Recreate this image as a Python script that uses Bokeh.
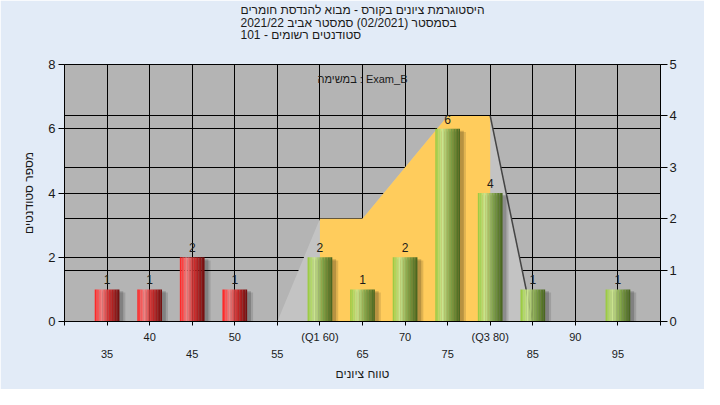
from bokeh.plotting import figure
from bokeh.models import Range1d, LinearAxis, FixedTicker, Label, ColumnDataSource, Grid, Title
from bokeh.embed import file_html
from bokeh.resources import INLINE
from bokeh.core.properties import value

# ---------------- data ----------------
grades = [35, 40, 45, 50, 55, 60, 65, 70, 75, 80, 85, 90, 95]
counts = [1, 1, 2, 1, 0, 2, 1, 2, 6, 4, 1, 0, 1]
pass_mark = 55

box_x = [55, 60, 65, 75, 80, 85]   # quartile shape (right axis)
box_y = [0, 2, 2, 4, 4, 0]
q1, q3 = 60, 80

xticks_top = [40, 50, 60, 70, 80, 90]
xlabels_top = ["40", "50", "(Q1 60)", "70", "(Q3 80)", "90"]
xticks_bottom = [35, 45, 55, 65, 75, 85, 95]
xlabels_bottom = ["35", "45", "55", "65", "75", "85", "95"]
left_ticks = [0, 2, 4, 6, 8]
right_ticks = [0, 1, 2, 3, 4, 5]

title_lines = [
    "היסטוגרמת ציונים בקורס - מבוא להנדסת חומרים",
    "בסמסטר  (02/2021)  סמסטר אביב 2021/22",
    "סטודנטים רשומים - 101",
]
task_text = "במשימה : Exam_B"
x_title = "טווח ציונים"
y_title = "מספר סטודנטים"

FONT = "Liberation Sans"
TXT = "#1a1a1a"

# ---------------- figure ----------------
p = figure(width=704, height=389, x_range=Range1d(30, 100), y_range=Range1d(0, 8),
           output_backend="svg", toolbar_location=None,
           min_border_left=64, min_border_right=44, min_border_top=64, min_border_bottom=68,
           background_fill_color="#b4b4b4", border_fill_color="#e2ebf7",
           outline_line_color="black", outline_line_width=1)
p.extra_y_ranges = {"right": Range1d(0, 5)}

# titles (spacer next to the frame, then the three-line title above it)
p.title = None
p.add_layout(Title(text=" ", align="center", standoff=11, text_font=FONT,
                   text_font_size="8px", text_color=TXT), "above")
p.add_layout(Title(text="\n".join(title_lines), align="center", standoff=0,
                   text_font=FONT, text_font_size="12px", text_font_style="normal",
                   text_color=TXT, text_line_height=0.92), "above")

# primary x axis (top row of labels)
all5 = list(range(30, 101, 5))
xa = p.xaxis[0]
xa.ticker = FixedTicker(ticks=all5)
ov = {t: "" for t in all5}
for t, l in zip(xticks_top, xlabels_top):
    ov[t] = l
xa.major_label_overrides = ov
xa.major_tick_in = 0
xa.major_tick_out = 4
xa.major_label_standoff = 5
xa.axis_line_color = "black"
xa.major_tick_line_color = "black"
xa.major_label_text_font = FONT
xa.major_label_text_font_size = "11px"
xa.major_label_text_color = TXT

# second row of x labels
xb = LinearAxis(ticker=FixedTicker(ticks=xticks_bottom),
                major_label_overrides={t: l for t, l in zip(xticks_bottom, xlabels_bottom)})
xb.axis_line_color = None
xb.major_tick_line_color = None
xb.major_tick_in = 0
xb.major_tick_out = 0
xb.major_label_standoff = 4
xb.major_label_text_font = FONT
xb.major_label_text_font_size = "11px"
xb.major_label_text_color = TXT
xb.axis_label = x_title
xb.axis_label_text_font = FONT
xb.axis_label_text_font_size = "12px"
xb.axis_label_text_font_style = "normal"
xb.axis_label_text_color = TXT
xb.axis_label_standoff = 6
p.add_layout(xb, "below")

# left axis
ya = p.yaxis[0]
ya.ticker = FixedTicker(ticks=left_ticks)
ya.major_tick_in = 0
ya.major_tick_out = 6
ya.major_label_standoff = 3
ya.axis_line_color = "black"
ya.major_tick_line_color = "black"
ya.major_label_text_font = FONT
ya.major_label_text_font_size = "13px"
ya.major_label_text_color = TXT
ya.axis_label = y_title
ya.axis_label_text_font = FONT
ya.axis_label_text_font_size = "12px"
ya.axis_label_text_font_style = "normal"
ya.axis_label_text_color = TXT
ya.axis_label_standoff = 9

# right axis
yr = LinearAxis(y_range_name="right", ticker=FixedTicker(ticks=right_ticks))
yr.major_tick_in = 0
yr.major_tick_out = 7
yr.major_label_standoff = 2
yr.axis_line_color = "black"
yr.major_tick_line_color = "black"
yr.major_label_text_font = FONT
yr.major_label_text_font_size = "13px"
yr.major_label_text_color = TXT
p.add_layout(yr, "right")

# grids
p.xgrid.ticker = FixedTicker(ticks=[g for g in all5 if 30 < g < 100])
p.xgrid.grid_line_color = "black"
p.ygrid.ticker = FixedTicker(ticks=left_ticks)
p.ygrid.grid_line_color = "black"
gr = Grid(dimension=1, ticker=FixedTicker(ticks=right_ticks), y_range_name="right",
          grid_line_color="black")
p.add_layout(gr)

# quartile area (right axis)
p.patch(box_x, box_y, y_range_name="right", fill_color="#c3c3c3", line_color=None)
yx = [q1] + [x for x in box_x if q1 <= x <= q3] + [q3]
yy = [0] + [y for x, y in zip(box_x, box_y) if q1 <= x <= q3] + [0]
p.patch(yx, yy, y_range_name="right", fill_color="#ffcc5c", line_color=None)
p.line(box_x[-2:], box_y[-2:], y_range_name="right", line_color="#444444", line_width=1.5)

# bars
W = 2.9
nz = [(g, c) for g, c in zip(grades, counts) if c > 0]
bx = [g for g, c in nz]
bc = [c for g, c in nz]

# shadows
p.vbar(x=[g + 0.7 for g in bx], top=[c - 0.1 for c in bc], bottom=0, width=W,
       fill_color="black", fill_alpha=0.12, line_color=None)
p.vbar(x=[g + 0.45 for g in bx], top=[c - 0.06 for c in bc], bottom=0, width=W,
       fill_color="black", fill_alpha=0.18, line_color=None)

red_stops = [(0, (255, 30, 30)), (0.28, (240, 130, 130)), (0.6, (205, 40, 40)), (1, (110, 15, 15))]
green_stops = [(0, (150, 200, 60)), (0.28, (202, 228, 142)), (0.62, (128, 162, 72)), (1, (70, 98, 30))]


def grad(stops, t):
    for (p0, c0), (p1, c1) in zip(stops[:-1], stops[1:]):
        if p0 <= t <= p1:
            f = (t - p0) / (p1 - p0)
            r, g, b = (round(c0[i] + (c1[i] - c0[i]) * f) for i in range(3))
            return "#%02x%02x%02x" % (r, g, b)
    return "#%02x%02x%02x" % stops[-1][1]


N = 16
sx, st, sc = [], [], []
for g, c in zip(bx, bc):
    stops = red_stops if g < pass_mark else green_stops
    for i in range(N):
        t = (i + 0.5) / N
        sx.append(g - W / 2 + t * W)
        st.append(c)
        sc.append(grad(stops, t))
p.vbar(x="x", top="top", bottom=0, width=W / N * 1.02, fill_color="color", line_color=None,
       source=ColumnDataSource(dict(x=sx, top=st, color=sc)))

# value labels
p.text(x=bx, y=bc, text=[str(c) for c in bc], text_align="center", text_baseline="bottom",
       y_offset=-5, text_font=value(FONT), text_font_size="12px", text_color=TXT)

p.add_layout(Label(x=65, y=7.56, text=task_text, text_align="center", text_baseline="middle",
                   text_font=FONT, text_font_size="11px", text_color=TXT))

open("out.html", "w").write(file_html(p, INLINE))
